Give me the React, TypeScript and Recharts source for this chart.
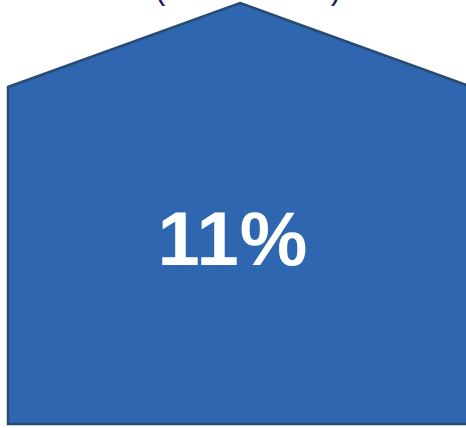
import React from 'react';
import { BarChart, Bar, XAxis, YAxis } from 'recharts';

// one category, one block drawn as a house; the share sits in the middle
const categories = ['Share'];
const houseValues = [100];
const shareValues = [11];
const titleText = '(All Students)';

const FILL = '#2E67B0';
const EDGE = '#274B73';
const ROOF_FRACTION = 84 / 421; // roof rise as part of the whole block

const data = categories.map((name, i) => ({
  name,
  house: houseValues[i],
  share: shareValues[i],
}));

function HouseShape(props: any) {
  const { x, y, width, height, payload } = props;
  const roof = height * ROOF_FRACTION;
  const apexX = x + width / 2;
  const pts = [
    [apexX, y],
    [x + width, y + roof],
    [x + width, y + height],
    [x, y + height],
    [x, y + roof],
  ]
    .map((p) => p.join(','))
    .join(' ');
  return (
    <g>
      <polygon points={pts} fill={FILL} stroke={EDGE} strokeWidth={2.5} strokeLinejoin="miter" />
      <text
        x={apexX - 7}
        y={y + 262}
        textAnchor="middle"
        fill="#FFFFFF"
        fontFamily="Liberation Sans, Arial, sans-serif"
        fontWeight="bold"
        fontSize={76}
        letterSpacing={1}
      >
        {`${payload.share}%`}
      </text>
    </g>
  );
}

export default function App() {
  return (
    <div style={{ position: 'absolute', left: 0, top: 0, width: 466, height: 428, overflow: 'hidden', background: '#fff' }}>
      <BarChart
        width={480}
        height={428}
        data={data}
        margin={{ top: 3, right: 8, bottom: 4, left: 8 }}
        barCategoryGap={0}
      >
        <XAxis dataKey="name" hide />
        <YAxis hide domain={[0, 100]} />
        <Bar dataKey="house" shape={HouseShape} isAnimationActive={false} />
        <text
          x={248}
          y={-1}
          textAnchor="middle"
          fill="#1F1A5C"
          fontFamily="Liberation Sans, Arial, sans-serif"
          fontSize={31}
        >
          {titleText}
        </text>
      </BarChart>
    </div>
  );
}
